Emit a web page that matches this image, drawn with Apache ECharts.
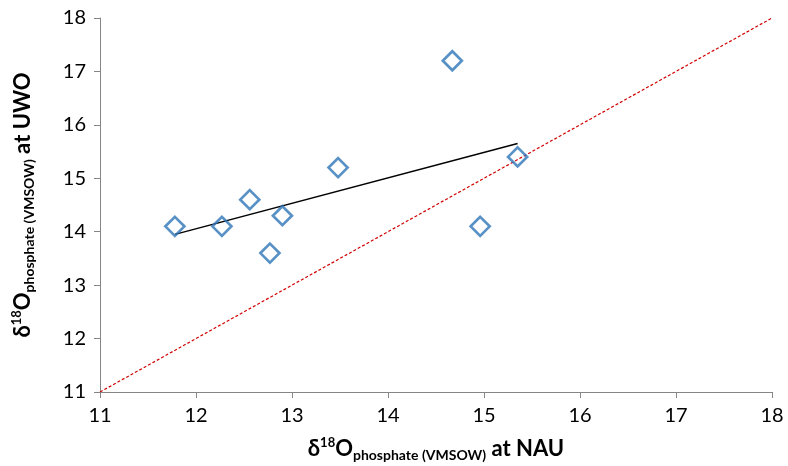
<!DOCTYPE html>
<html><head><meta charset="utf-8">
<script src="https://cdn.jsdelivr.net/npm/echarts@6/dist/echarts.min.js"></script>
<style>html,body{margin:0;padding:0;background:#fff}#c{width:788px;height:466px}</style>
</head><body><div id="c"></div>
<script>
var nauValues = [11.78, 12.27, 12.56, 12.9, 12.77, 13.48, 14.67, 14.96, 15.35];
var uwoValues = [14.1, 14.1, 14.6, 14.3, 13.6, 15.2, 17.2, 14.1, 15.4];
var trendLine = [[11.78, 13.95], [15.35, 15.65]];
var oneToOne = [[11, 11], [18, 18]];
var axisMin = 11, axisMax = 18, axisStep = 1;

var points = nauValues.map(function (x, i) { return [x, uwoValues[i]]; });
var font = 'Lato, "Open Sans", sans-serif';
var rich = {
  b: {fontSize: 22, fontWeight: 'bold', fontFamily: font, color: '#000', lineHeight: 26},
  sup: {fontSize: 13, fontWeight: 'bold', fontFamily: font, color: '#000', verticalAlign: 'top', lineHeight: 26, padding: [0, 0, 8, 0]},
  sub: {fontSize: 14, fontWeight: 'bold', fontFamily: font, color: '#000', verticalAlign: 'bottom', lineHeight: 26, padding: [10, 0, 0, 0]}
};
function axisCommon() {
  return {
    type: 'value', min: axisMin, max: axisMax, interval: axisStep,
    splitLine: {show: false},
    axisLine: {show: true, lineStyle: {color: '#868686', width: 1}},
    axisTick: {show: true, length: 6, lineStyle: {color: '#868686'}},
    axisLabel: {fontSize: 20, color: '#000', fontFamily: font},
    nameLocation: 'middle',
    nameTextStyle: {rich: rich}
  };
}
var xAxis = axisCommon();
xAxis.name = '{b|δ}{sup|18}{b|O}{sub|phosphate (VMSOW)}{b| at NAU}';
xAxis.nameGap = 44;
xAxis.axisLabel.margin = 14;
var yAxis = axisCommon();
yAxis.name = '{b|δ}{sup|18}{b|O}{sub|phosphate (VMSOW)}{b| at UWO}';
yAxis.nameGap = 64;
yAxis.axisLabel.margin = 14;

var chart = echarts.init(document.getElementById('c'));
chart.setOption({
  animation: false,
  grid: {left: 100, right: 16, top: 18, bottom: 74, outerBoundsMode: 'none', containLabel: false},
  xAxis: xAxis,
  yAxis: yAxis,
  series: [
    {type: 'line', data: oneToOne, symbol: 'none', lineStyle: {color: '#d00000', width: 1.2, type: [3, 2]}, z: 1},
    {type: 'line', data: trendLine, symbol: 'none', lineStyle: {color: '#000', width: 1.5}, z: 2},
    {type: 'scatter', data: points, symbol: 'diamond', symbolSize: [19, 19],
     itemStyle: {color: 'rgba(0,0,0,0)', borderColor: '#2e75b6', borderWidth: 2.7}, z: 3}
  ]
});
</script></body></html>
